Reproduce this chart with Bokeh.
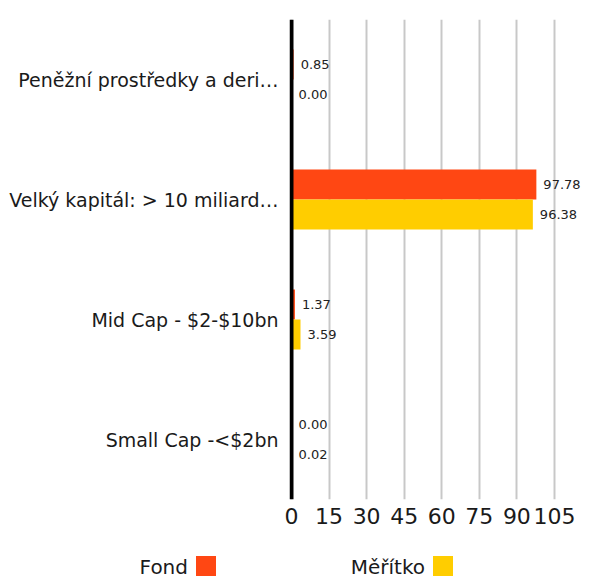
from bokeh.plotting import figure
from bokeh.layouts import column
from bokeh.models import ColumnDataSource, FactorRange, FixedTicker, Span, Div
from bokeh.transform import dodge
from bokeh.core.properties import value
from bokeh.embed import file_html
from bokeh.resources import INLINE

categories = ["Peněžní prostředky a deri…", "Velký kapitál: > 10 miliard…",
              "Mid Cap - $2-$10bn", "Small Cap -<$2bn"]
fond = [0.85, 97.78, 1.37, 0.00]
meritko = [0.00, 96.38, 3.59, 0.02]
ticks = [0, 15, 30, 45, 60, 75, 90, 105]
series_names = ["Fond", "Měřítko"]

FONT = "DejaVu Sans"
C_FOND = "#FF4713"
C_MER = "#FFCD00"
series_colors = [C_FOND, C_MER]

src = ColumnDataSource(dict(
    cat=categories,
    fond=fond,
    meritko=meritko,
    fond_lbl=["%.2f" % v for v in fond],
    mer_lbl=["%.2f" % v for v in meritko],
))

MAIN_H = 540
p = figure(width=595, height=MAIN_H, output_backend="svg", toolbar_location=None,
           y_range=FactorRange(factors=categories[::-1]),
           x_range=(-0.8, 119.4),
           min_border_left=289, min_border_right=5, min_border_top=19,
           min_border_bottom=MAIN_H - 499)

p.hbar(y=dodge("cat", 0.125, range=p.y_range), left=0, right="fond", height=0.25,
       source=src, fill_color=C_FOND, line_color=None)
p.hbar(y=dodge("cat", -0.125, range=p.y_range), left=0, right="meritko", height=0.25,
       source=src, fill_color=C_MER, line_color=None)

p.text(x="fond", y=dodge("cat", 0.125, range=p.y_range), text="fond_lbl", source=src,
       x_offset=7, text_baseline="middle", text_align="left", text_font_size="13px",
       text_font=value(FONT), text_color="#222222")
p.text(x="meritko", y=dodge("cat", -0.125, range=p.y_range), text="mer_lbl", source=src,
       x_offset=7, text_baseline="middle", text_align="left", text_font_size="13px",
       text_font=value(FONT), text_color="#222222")

p.add_layout(Span(location=0, dimension="height", line_color="black", line_width=4))

p.outline_line_color = None
p.ygrid.grid_line_color = None
p.xgrid.grid_line_color = "#c8c8c8"
p.xgrid.grid_line_width = 2
p.xaxis.ticker = FixedTicker(ticks=ticks)
for ax in (p.xaxis, p.yaxis):
    ax.axis_line_color = None
    ax.major_tick_line_color = None
    ax.minor_tick_line_color = None
    ax.major_label_text_font = FONT
    ax.major_label_text_color = "#1a1a1a"
p.xaxis.major_label_text_font_size = "22px"
p.xaxis.major_label_standoff = 2
p.yaxis.major_label_text_font_size = "19px"
p.yaxis.major_label_standoff = 5

# legend strip: series name followed by a coloured square
LEG_H = 583 - MAIN_H
sq_left = [196, 433]
parts = []
for name, color, sx in zip(series_names, series_colors, sq_left):
    parts.append(
        f'<div style="position:absolute;left:{sx - 8 - 150}px;top:17px;width:150px;'
        f'text-align:right;font-family:\'{FONT}\';font-size:20px;line-height:20px;'
        f'color:#1a1a1a;white-space:nowrap">{name}</div>'
        f'<div style="position:absolute;left:{sx}px;top:16px;width:20px;height:20px;'
        f'background:{color}"></div>'
    )
leg = Div(text=f'<div style="position:relative;width:595px;height:{LEG_H}px">'
               + "".join(parts) + "</div>",
          width=595, height=LEG_H, margin=0)

open("out.html", "w").write(file_html(column(p, leg, spacing=0), INLINE))
